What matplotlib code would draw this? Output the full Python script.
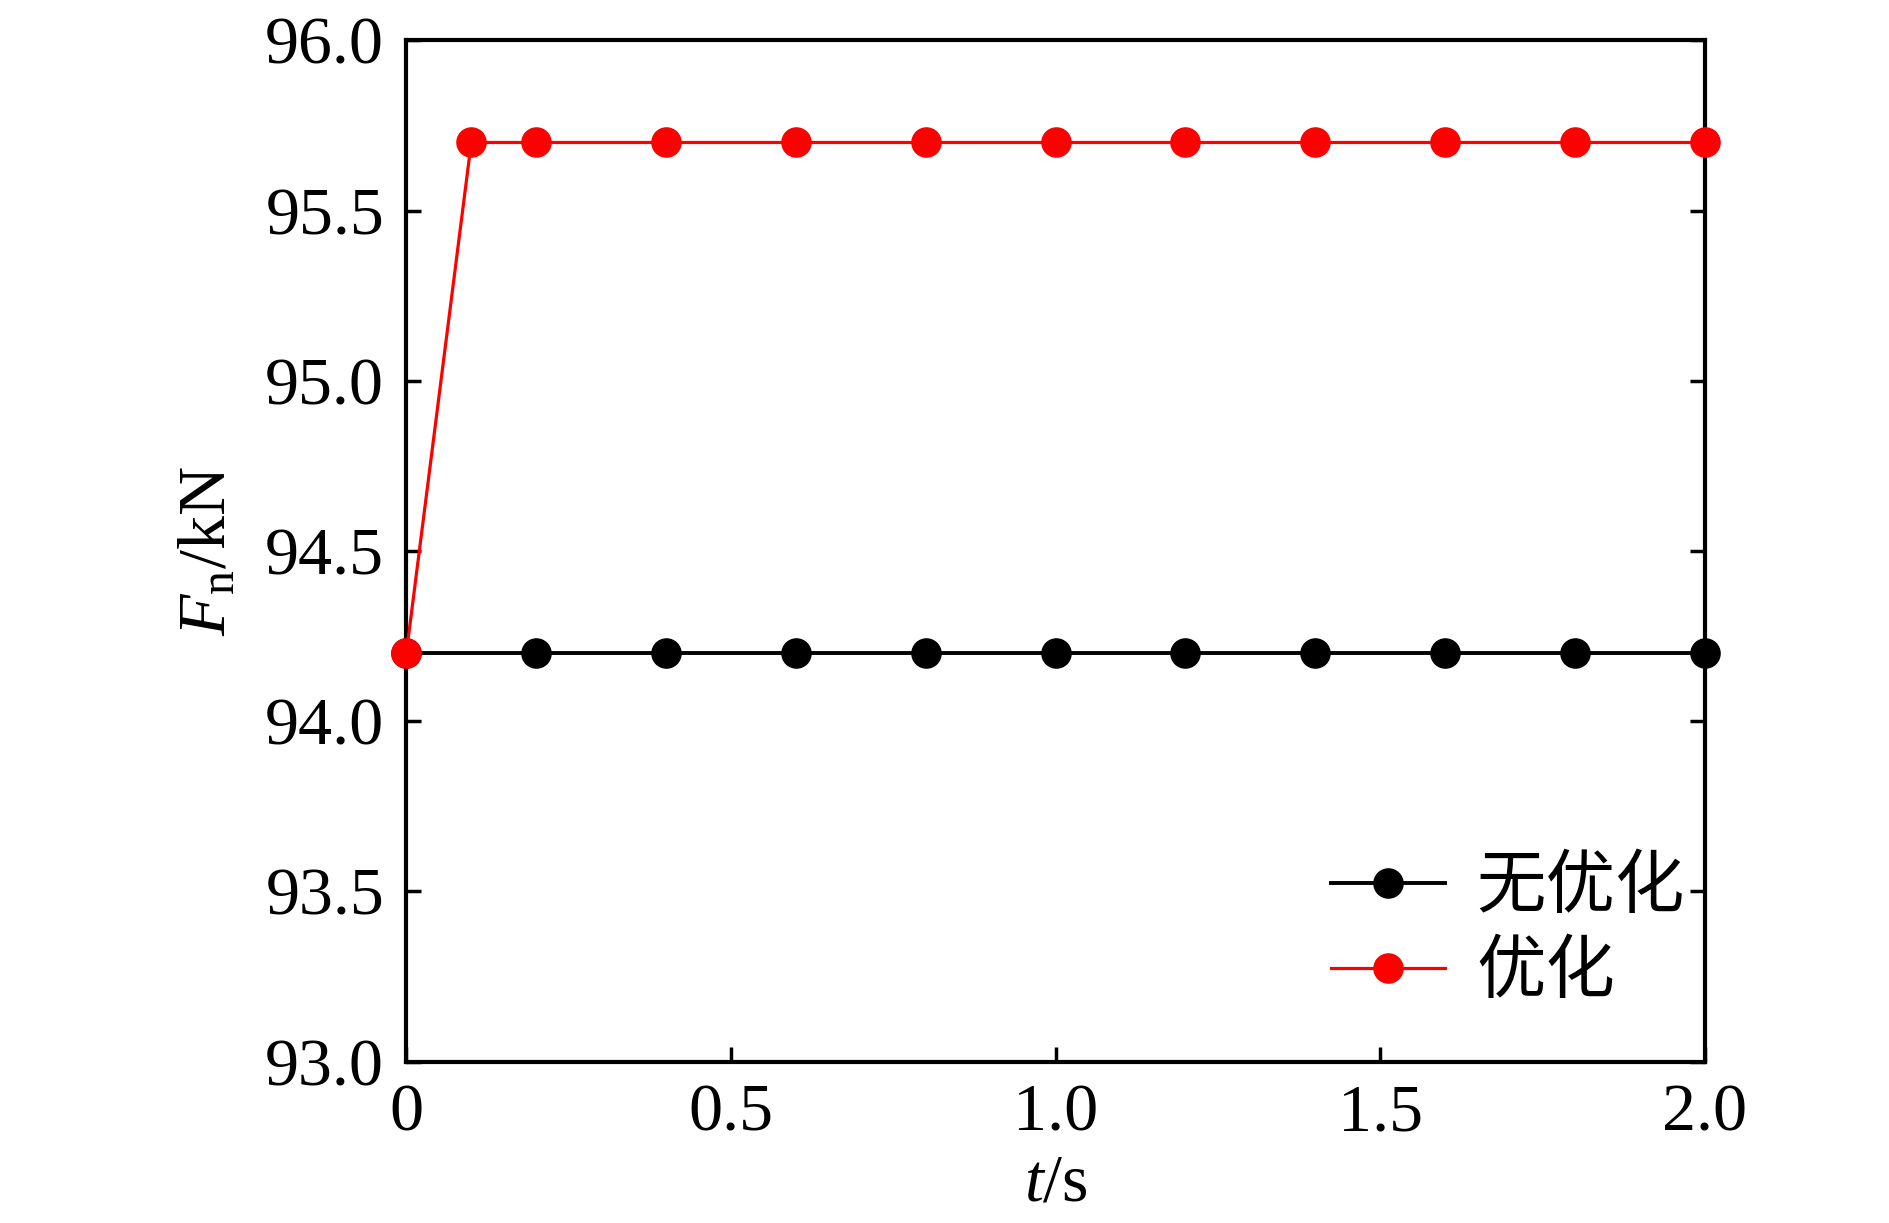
import matplotlib
matplotlib.use('Agg')
import matplotlib.pyplot as plt

plt.rcParams['font.family'] = ['Liberation Serif', 'Noto Sans CJK SC']
plt.rcParams['mathtext.fontset'] = 'custom'
plt.rcParams['mathtext.rm'] = 'Liberation Serif'
plt.rcParams['mathtext.it'] = 'Liberation Serif:italic'

# data
t_no_opt = [0, 0.2, 0.4, 0.6, 0.8, 1.0, 1.2, 1.4, 1.6, 1.8, 2.0]
f_no_opt = [94.2, 94.2, 94.2, 94.2, 94.2, 94.2, 94.2, 94.2, 94.2, 94.2, 94.2]
t_opt = [0, 0.1, 0.2, 0.4, 0.6, 0.8, 1.0, 1.2, 1.4, 1.6, 1.8, 2.0]
f_opt = [94.2, 95.7, 95.7, 95.7, 95.7, 95.7, 95.7, 95.7, 95.7, 95.7, 95.7, 95.7]
x_ticks = [0, 0.5, 1.0, 1.5, 2.0]
x_labels = ['0', '0.5', '1.0', '1.5', '2.0']
y_ticks = [93.0, 93.5, 94.0, 94.5, 95.0, 95.5, 96.0]

fig = plt.figure(figsize=(18.9, 12.23), dpi=100)
ax = fig.add_axes([0.215, 0.132, 0.687, 0.835])

ax.plot(t_no_opt, f_no_opt, color='black', lw=2.8, marker='o', ms=21,
        label='无优化', clip_on=False, zorder=3)
ax.plot(t_opt, f_opt, color='red', lw=2.3, marker='o', ms=21,
        label='优化', clip_on=False, zorder=4)

ax.set_xlim(0, 2.0)
ax.set_ylim(93.0, 96.0)
ax.set_xticks(x_ticks)
ax.set_xticklabels(x_labels)
ax.set_yticks(y_ticks)
ax.set_yticklabels([f'{v:.1f}' for v in y_ticks])
ax.tick_params(direction='in', length=11, width=2.5, labelsize=49, pad=16,
               right=True, top=False)

for s in ax.spines.values():
    s.set_linewidth(3)

ax.set_xlabel('$t$/s', fontsize=49, labelpad=6)
ax.set_ylabel(r'$F_{\mathrm{n}}$/kN', fontsize=49, labelpad=18)

leg = ax.legend(loc='lower left', bbox_to_anchor=(0.712, 0.052), frameon=False,
                fontsize=50, handlelength=1.65, handletextpad=0.45,
                labelspacing=0.2, borderaxespad=0, borderpad=0)
for txt in leg.get_texts():
    txt.set_family(['Noto Sans CJK SC'])

fig.savefig('out.png', dpi=100)
